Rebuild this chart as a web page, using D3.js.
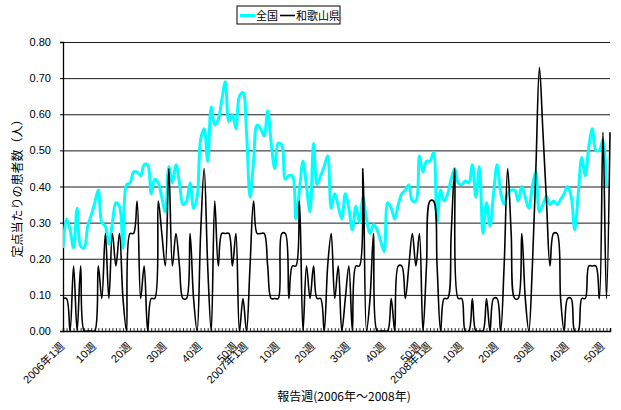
<!DOCTYPE html>
<html>
<head>
<meta charset="utf-8">
<script src="https://cdnjs.cloudflare.com/ajax/libs/d3/7.8.5/d3.min.js"></script>
<style>
  body { margin: 0; background: #fff; }
  svg { display: block; }
</style>
</head>
<body>
<svg id="chart" width="621" height="410"></svg>
<script>
/********************************************************
 ********************* Data *****************************
 ********************************************************/
// weekly reports, 2006 week 1 .. 2008 week 52 (156 weeks)
var seriesNames = ["全国", "和歌山県"];

// 全国 (national), per sentinel site
var zenkoku = [
  0.23, 0.31, 0.28, 0.23, 0.34, 0.235, 0.23, 0.29, 0.32, 0.355,
  0.39, 0.30, 0.29, 0.24, 0.30, 0.355, 0.345, 0.23, 0.405, 0.41,
  0.44, 0.44, 0.43, 0.46, 0.46, 0.38, 0.42, 0.41, 0.37, 0.33,
  0.455, 0.41, 0.46, 0.41, 0.35, 0.36, 0.41, 0.34, 0.37, 0.53,
  0.56, 0.47, 0.62, 0.57, 0.585, 0.64, 0.69, 0.58, 0.60, 0.56,
  0.65, 0.66, 0.55, 0.37, 0.47, 0.57, 0.56, 0.54, 0.61, 0.52,
  0.45, 0.52, 0.515, 0.42, 0.43, 0.43, 0.31, 0.39, 0.47, 0.40,
  0.33, 0.52, 0.405, 0.43, 0.455, 0.485, 0.34, 0.38, 0.345, 0.31,
  0.38, 0.34, 0.28, 0.345, 0.30, 0.37, 0.31, 0.27, 0.295, 0.28,
  0.25, 0.22, 0.355, 0.34, 0.31, 0.35, 0.38, 0.39, 0.405, 0.36,
  0.36, 0.485, 0.44, 0.47, 0.47, 0.495, 0.30, 0.39, 0.36, 0.38,
  0.42, 0.45, 0.41, 0.405, 0.415, 0.41, 0.46, 0.37, 0.455, 0.27,
  0.355, 0.29, 0.38, 0.46, 0.385, 0.35, 0.38, 0.39, 0.39, 0.36,
  0.40, 0.37, 0.34, 0.40, 0.44, 0.33, 0.35, 0.373, 0.35, 0.36,
  0.35, 0.364, 0.38, 0.40, 0.373, 0.28, 0.38, 0.48, 0.43, 0.51,
  0.56, 0.50, 0.50, 0.53, 0.40, null
];

// 和歌山県 (Wakayama), per sentinel site
var wakayama = [
  0.09, 0.09, 0.00, 0.18, 0.00, 0.18, 0.00, 0.00, 0.00, 0.00,
  0.18, 0.09, 0.27, 0.09, 0.27, 0.18, 0.27, 0.09, 0.00, 0.27,
  0.27, 0.36, 0.09, 0.18, 0.00, 0.09, 0.09, 0.36, 0.27, 0.18,
  0.45, 0.18, 0.27, 0.18, 0.09, 0.09, 0.27, 0.09, 0.00, 0.27,
  0.45, 0.18, 0.00, 0.36, 0.18, 0.27, 0.27, 0.27, 0.18, 0.27,
  0.00, 0.09, 0.00, 0.18, 0.36, 0.27, 0.27, 0.27, 0.18, 0.09,
  0.09, 0.09, 0.27, 0.27, 0.09, 0.18, 0.18, 0.36, 0.00, 0.18,
  0.09, 0.18, 0.09, 0.09, 0.00, 0.18, 0.27, 0.09, 0.18, 0.00,
  0.09, 0.18, 0.00, 0.18, 0.18, 0.45, 0.00, 0.09, 0.27, 0.00,
  0.00, 0.00, 0.00, 0.09, 0.00, 0.18, 0.18, 0.09, 0.18, 0.27,
  0.18, 0.27, 0.00, 0.18, 0.36, 0.36, 0.18, 0.00, 0.09, 0.09,
  0.27, 0.45, 0.09, 0.09, 0.00, 0.00, 0.09, 0.00, 0.00, 0.00,
  0.09, 0.00, 0.09, 0.09, 0.00, 0.18, 0.45, 0.27, 0.09, 0.09,
  0.27, 0.09, 0.00, 0.18, 0.45, 0.73, 0.55, 0.36, 0.18, 0.27,
  0.27, 0.09, 0.00, 0.09, 0.09, 0.00, 0.00, 0.09, 0.09, 0.18,
  0.18, 0.18, 0.09, 0.55, 0.09, 0.55
];

// category axis labels (week index -> text)
var tickIdx  = [0, 9, 19, 29, 39, 49, 52, 61, 71, 81, 91, 101, 104, 113, 123, 133, 143, 153];
var tickText = ["2006年1週", "10週", "20週", "30週", "40週", "50週",
                "2007年1週", "10週", "20週", "30週", "40週", "50週",
                "2008年1週", "10週", "20週", "30週", "40週", "50週"];
var yTicks = [0, 0.1, 0.2, 0.3, 0.4, 0.5, 0.6, 0.7, 0.8];

/********************************************************
 ********************* Chart ****************************
 ********************************************************/
var jp = "'Noto Sans CJK JP', sans-serif";
var num = "'Liberation Sans Narrow', 'Liberation Sans', 'Noto Sans CJK JP', sans-serif";

var svg = d3.select("#chart"),
  margin = { left: 63, right: 11, top: 42, bottom: 79 },
  width = +svg.attr("width") - margin.left - margin.right,
  height = +svg.attr("height") - margin.top - margin.bottom;

var xScale = d3.scalePoint().domain(d3.range(wakayama.length)).range([0, width]),
  yScale = d3.scaleLinear().domain([0, 0.8]).range([height, 0]);

var g = svg.append("g")
  .attr("transform", "translate(" + margin.left + "," + margin.top + ")");

// gridlines
g.append("g")
  .call(d3.axisLeft(yScale).tickValues(yTicks).tickSize(-width).tickFormat(""))
  .call(function(s) { s.select(".domain").remove(); })
  .selectAll("line")
  .attr("stroke", "#1a1a1a")
  .attr("stroke-width", 1);

// y axis
var yAxis = g.append("g")
  .call(d3.axisLeft(yScale).tickValues(yTicks).tickSize(3).tickPadding(9).tickFormat(d3.format(".2f")));
yAxis.select(".domain").attr("stroke", "#000").attr("stroke-width", 1.3);
yAxis.selectAll("text")
  .style("font-family", num)
  .style("font-size", "11px")
  .attr("fill", "#000");

// x axis, small inward ticks for each week
var xAxis = g.append("g")
  .attr("transform", "translate(0," + height + ")")
  .call(d3.axisBottom(xScale).tickSize(-3).tickFormat(""));
xAxis.select(".domain").attr("stroke", "#000").attr("stroke-width", 1.5);
xAxis.selectAll(".tick line").attr("stroke", "#000").attr("stroke-width", 0.8);

// rotated week labels
g.append("g")
  .selectAll("text")
  .data(tickIdx)
  .enter()
  .append("text")
  .attr("transform", function(d) {
    return "translate(" + (xScale(d) + 2) + "," + (height + 16) + ") rotate(-45)";
  })
  .attr("text-anchor", "end")
  .style("font-family", num)
  .style("font-size", "11px")
  .text(function(d, i) { return tickText[i]; });

// clip lines to the plot
svg.append("defs").append("clipPath").attr("id", "plotclip")
  .append("rect").attr("x", 0).attr("y", -2).attr("width", width + 2).attr("height", height + 2);

var line = d3.line()
  .defined(function(d) { return d != null; })
  .x(function(d, i) { return xScale(i); })
  .y(function(d) { return yScale(d); })
  .curve(d3.curveCatmullRom.alpha(0.5));

var lines = g.append("g").attr("clip-path", "url(#plotclip)");

lines.append("path")
  .datum(zenkoku)
  .attr("fill", "none")
  .attr("stroke", "#00ffff")
  .attr("stroke-width", 3)
  .attr("stroke-linejoin", "round")
  .attr("d", line);

lines.append("path")
  .datum(wakayama)
  .attr("fill", "none")
  .attr("stroke", "#000")
  .attr("stroke-width", 1.6)
  .attr("stroke-linejoin", "round")
  .attr("d", line);

// axis titles
svg.append("text")
  .attr("transform", "translate(22," + (margin.top + height / 2 - 1) + ") rotate(-90)")
  .attr("text-anchor", "middle")
  .style("font-family", jp)
  .style("font-size", "12px")
  .text("定点当たりの患者数（人）");

svg.append("text")
  .attr("x", 344)
  .attr("y", 401)
  .attr("text-anchor", "middle")
  .style("font-family", jp)
  .style("font-size", "12px")
  .text("報告週(2006年～2008年)");

/********************************************************
 ********************* Legend ***************************
 ********************************************************/
var legend = svg.append("g").attr("transform", "translate(237,6)");
legend.append("rect")
  .attr("width", 103).attr("height", 18)
  .attr("fill", "#fff").attr("stroke", "#000").attr("stroke-width", 1);

var legendColors = ["#00ffff", "#000"],
  legendWidths = [3, 1.6],
  legendX = [3, 43];
seriesNames.forEach(function(name, i) {
  legend.append("line")
    .attr("x1", legendX[i]).attr("x2", legendX[i] + 15)
    .attr("y1", 9.5).attr("y2", 9.5)
    .attr("stroke", legendColors[i]).attr("stroke-width", legendWidths[i]);
  legend.append("text")
    .attr("x", legendX[i] + 16).attr("y", 13.5)
    .style("font-family", jp)
    .style("font-size", "11px")
    .text(name);
});
</script>
</body>
</html>
